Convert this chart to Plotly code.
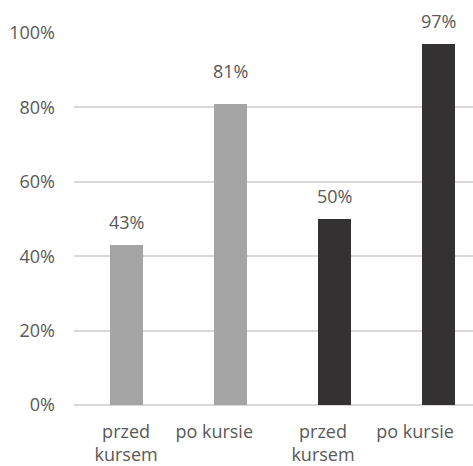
import plotly.graph_objects as go

categories = ["przed<br>kursem", "po kursie", "przed<br>kursem", "po kursie"]
values = [0.43, 0.81, 0.50, 0.97]
labels = ["43%", "81%", "50%", "97%"]
colors = ["#A5A5A5", "#A5A5A5", "#333132", "#333132"]
y_ticks = [0, 0.2, 0.4, 0.6, 0.8, 1.0]
y_tick_text = ["0%", "20%", "40%", "60%", "80%", "100%"]

# horizontal nudges of category labels relative to bars (layout styling, in category units)
label_offsets = [0.0, -0.154, -0.11, -0.226]
# vertical gap (px) between bar top and its value label (styling)
label_gaps = [9, 19, 9, 9]

font_family = "Open Sans"
text_color = "#595959"
fs = 18

positions = list(range(len(categories)))

fig = go.Figure()
fig.add_trace(go.Bar(
    x=positions,
    y=values,
    marker=dict(color=colors, line=dict(width=0)),
    width=0.317,
    showlegend=False,
    hoverinfo="skip",
))

for i, (v, t, g) in enumerate(zip(values, labels, label_gaps)):
    fig.add_annotation(x=i, y=v, text=t, showarrow=False, yanchor="bottom",
                       yshift=g, font=dict(family=font_family, size=fs, color=text_color))

fig.update_layout(
    width=473, height=466,
    margin=dict(l=74, r=0, t=33, b=61, autoexpand=False),
    plot_bgcolor="white", paper_bgcolor="white",
    bargap=0,
    font=dict(family=font_family, size=fs, color=text_color),
)
fig.update_xaxes(
    range=[-0.5, 3.33], automargin=False,
    tickmode="array",
    tickvals=[p + o for p, o in zip(positions, label_offsets)],
    ticktext=categories,
    showgrid=False, zeroline=False, showline=False,
    ticks="", ticklabelstandoff=14, ticklabeloverflow="allow",
    tickfont=dict(family=font_family, size=fs, color=text_color),
)
fig.update_yaxes(
    range=[0, 1], automargin=False,
    tickmode="array", tickvals=y_ticks, ticktext=y_tick_text,
    showgrid=True, gridcolor="#D9D9D9", gridwidth=1.5,
    zeroline=True, zerolinecolor="#D9D9D9", zerolinewidth=1.5,
    showline=False, ticks="", ticklabelstandoff=18,
    tickfont=dict(family=font_family, size=fs, color=text_color),
)

fig.write_html("out.html")
